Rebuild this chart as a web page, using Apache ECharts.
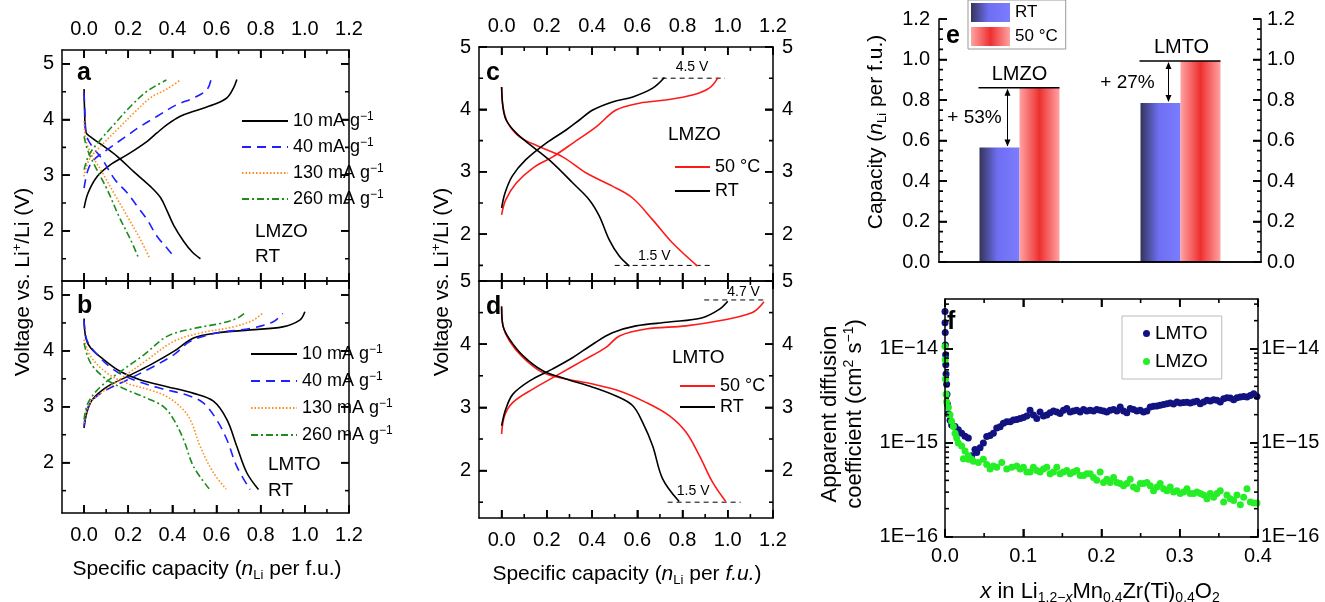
<!DOCTYPE html>
<html><head><meta charset="utf-8">
<script src="https://cdn.jsdelivr.net/npm/echarts@6/dist/echarts.min.js"></script>
<style>html,body{margin:0;padding:0;background:#fff}#c{width:1325px;height:602px}</style>
</head><body><div id="c"></div>
<script>
// ---------------- DATA ----------------
// panel a (LMZO, RT, rate tests) [capacity, voltage]
const a10Charge = [[0,2.41],[0.018,2.68],[0.06,2.98],[0.12,3.19],[0.196,3.37],[0.286,3.61],[0.33,3.76],[0.376,3.91],[0.436,4.06],[0.497,4.15],[0.587,4.27],[0.647,4.39],[0.677,4.57],[0.692,4.72]];
const a10Dis = [[0,4.55],[0.002,4.2],[0.008,3.78],[0.04,3.66],[0.09,3.52],[0.15,3.34],[0.226,3.06],[0.30,2.80],[0.346,2.6],[0.376,2.36],[0.406,2.1],[0.45,1.82],[0.49,1.62],[0.527,1.50]];
const a40Charge = [[0,2.77],[0.018,3.10],[0.045,3.28],[0.105,3.46],[0.18,3.67],[0.256,3.88],[0.331,4.06],[0.421,4.27],[0.497,4.39],[0.557,4.54],[0.575,4.72]];
const a40Dis = [[0,4.48],[0.004,4.1],[0.012,3.7],[0.04,3.5],[0.08,3.3],[0.14,2.92],[0.196,2.68],[0.241,2.44],[0.286,2.2],[0.331,1.90],[0.376,1.69],[0.414,1.50]];
const a130Charge = [[0,2.98],[0.023,3.28],[0.075,3.52],[0.15,3.82],[0.226,4.12],[0.30,4.39],[0.376,4.55],[0.432,4.70]];
const a130Dis = [[0,3.97],[0.008,3.64],[0.03,3.40],[0.075,3.10],[0.135,2.68],[0.196,2.26],[0.256,1.84],[0.298,1.50]];
const a260Charge = [[0,3.10],[0.023,3.37],[0.075,3.64],[0.135,3.91],[0.211,4.24],[0.286,4.51],[0.373,4.71]];
const a260Dis = [[0,3.70],[0.015,3.46],[0.05,3.16],[0.105,2.74],[0.158,2.26],[0.211,1.84],[0.248,1.50]];
// panel b (LMTO, RT, rate tests)
const b10Charge = [[0,2.62],[0.012,2.89],[0.038,3.13],[0.105,3.36],[0.195,3.54],[0.30,3.75],[0.406,3.99],[0.496,4.23],[0.60,4.32],[0.752,4.375],[0.90,4.43],[0.977,4.55],[1.0,4.70]];
const b10Dis = [[0,4.58],[0.008,4.23],[0.03,4.05],[0.09,3.84],[0.165,3.63],[0.256,3.48],[0.376,3.36],[0.496,3.24],[0.586,3.10],[0.647,2.77],[0.692,2.29],[0.737,1.82],[0.79,1.52]];
const b40Charge = [[0,2.65],[0.018,3.0],[0.075,3.24],[0.195,3.48],[0.30,3.69],[0.406,3.93],[0.481,4.17],[0.60,4.32],[0.752,4.40],[0.857,4.52],[0.90,4.67]];
const b40Dis = [[0,4.55],[0.012,4.20],[0.06,3.93],[0.135,3.66],[0.226,3.48],[0.346,3.33],[0.466,3.21],[0.54,3.07],[0.60,2.77],[0.647,2.41],[0.692,1.93],[0.752,1.52]];
const b130Charge = [[0,2.71],[0.023,3.04],[0.075,3.24],[0.18,3.54],[0.286,3.84],[0.406,4.17],[0.526,4.32],[0.677,4.43],[0.767,4.55],[0.812,4.69]];
const b130Dis = [[0,4.20],[0.03,3.90],[0.105,3.60],[0.195,3.42],[0.30,3.30],[0.376,3.18],[0.436,3.0],[0.481,2.77],[0.526,2.29],[0.586,1.82],[0.643,1.53]];
const b260Charge = [[0,2.77],[0.018,3.07],[0.075,3.36],[0.165,3.63],[0.271,3.93],[0.376,4.26],[0.496,4.40],[0.617,4.49],[0.692,4.58],[0.726,4.67]];
const b260Dis = [[0,4.14],[0.03,3.78],[0.105,3.48],[0.195,3.30],[0.286,3.15],[0.361,3.0],[0.406,2.77],[0.451,2.41],[0.496,1.93],[0.571,1.51]];
// panel c (LMZO, RT vs 50 C)
const cRTCharge = [[0,2.42],[0.015,2.66],[0.047,2.93],[0.106,3.19],[0.197,3.46],[0.285,3.67],[0.344,3.83],[0.403,3.99],[0.49,4.12],[0.58,4.20],[0.668,4.34],[0.72,4.51]];
const cRTDis = [[0,4.36],[0.006,4.04],[0.02,3.83],[0.065,3.62],[0.138,3.40],[0.226,3.14],[0.315,2.82],[0.388,2.55],[0.432,2.29],[0.476,1.91],[0.52,1.65],[0.565,1.49]];
const c50Charge = [[0,2.31],[0.018,2.55],[0.065,2.82],[0.138,3.06],[0.226,3.24],[0.315,3.46],[0.418,3.72],[0.506,3.99],[0.609,4.10],[0.726,4.15],[0.844,4.23],[0.918,4.34],[0.957,4.51]];
const c50Dis = [[0,4.36],[0.006,4.04],[0.028,3.78],[0.08,3.56],[0.168,3.40],[0.27,3.24],[0.374,2.98],[0.49,2.77],[0.579,2.58],[0.668,2.23],[0.756,1.86],[0.866,1.49]];
const cCutHigh = [[0.668,4.5],[0.988,4.5]];
const cCutLow = [[0.5,1.5],[0.925,1.5]];
// panel d (LMTO, RT vs 50 C)
const dRTCharge = [[0,2.71],[0.018,2.97],[0.05,3.21],[0.124,3.42],[0.226,3.61],[0.315,3.79],[0.403,4.0],[0.49,4.18],[0.594,4.29],[0.741,4.35],[0.888,4.42],[0.962,4.55],[1.0,4.68]];
const dRTDis = [[0,4.6],[0.006,4.29],[0.035,4.08],[0.094,3.82],[0.182,3.58],[0.285,3.45],[0.403,3.32],[0.506,3.18],[0.579,3.03],[0.624,2.76],[0.668,2.39],[0.712,1.87],[0.785,1.51]];
const d50Charge = [[0,2.58],[0.013,2.87],[0.05,3.08],[0.138,3.29],[0.256,3.53],[0.359,3.74],[0.462,3.95],[0.521,4.13],[0.638,4.24],[0.815,4.29],[0.962,4.37],[1.109,4.50],[1.16,4.67]];
const d50Dis = [[0,4.58],[0.006,4.29],[0.035,4.05],[0.094,3.79],[0.182,3.55],[0.285,3.45],[0.403,3.37],[0.521,3.26],[0.638,3.08],[0.741,2.87],[0.815,2.61],[0.874,2.24],[0.932,1.82],[0.991,1.51]];
const dCutHigh = [[0.896,4.7],[1.168,4.7]];
const dCutLow = [[0.734,1.5],[1.057,1.5]];
// panel e (capacity bars)
const eCats = ['LMZO','LMTO'];
const eRT = [0.565, 0.785];
const e50 = [0.86, 0.993];
const eGain = ['+ 53%', '+ 27%'];
// panel f (apparent diffusion coefficient, cm2/s)
const fLMTO = [[0,2.5e-14],[0,1.9e-14],[0.0003,1.5e-14],[0.0005,1.1e-14],[0.0008,8.7e-15],[0.001,6.8e-15],[0.0013,5.4e-15],[0.0021,4.2e-15],[0.0025,3.3e-15],[0.003,2.6e-15],[0.0043,2.05e-15],[0.0064,1.74e-15],[0.0085,1.55e-15],[0.0128,1.5e-15],[0.017,1.38e-15],[0.0213,1.27e-15],[0.0256,1.18e-15],[0.0298,1.13e-15],[0.0341,7.3e-16],[0.0383,8.5e-16],[0.0405,7.9e-16],[0.0448,8.9e-16],[0.049,1.0e-15],[0.0533,1.17e-15],[0.0576,1.2e-15],[0.0618,1.27e-15],[0.0661,1.44e-15],[0.0704,1.49e-15],[0.0746,1.62e-15],[0.0789,1.68e-15],[0.0832,1.68e-15],[0.0874,1.75e-15],[0.0917,1.78e-15],[0.096,1.82e-15],[0.1002,1.87e-15],[0.1045,1.93e-15],[0.1087,2.23e-15],[0.113,1.98e-15],[0.1173,1.82e-15],[0.1215,2.14e-15],[0.1258,1.93e-15],[0.1301,1.98e-15],[0.1343,2.09e-15],[0.1386,2.19e-15],[0.1429,2.14e-15],[0.1471,2.06e-15],[0.1514,2.23e-15],[0.1557,2.32e-15],[0.1599,2.14e-15],[0.1642,2.19e-15],[0.1684,2.23e-15],[0.1727,2.14e-15],[0.177,2.27e-15],[0.1812,2.19e-15],[0.1855,2.23e-15],[0.1898,2.19e-15],[0.194,2.27e-15],[0.1983,2.23e-15],[0.2026,2.19e-15],[0.2068,2.14e-15],[0.2111,2.23e-15],[0.2154,2.27e-15],[0.2196,2.19e-15],[0.2239,2.42e-15],[0.2281,2.19e-15],[0.2324,2.09e-15],[0.2367,2.32e-15],[0.2409,2.27e-15],[0.2452,2.19e-15],[0.2495,2.23e-15],[0.2537,2.14e-15],[0.258,2.19e-15],[0.2623,2.42e-15],[0.2665,2.46e-15],[0.2708,2.48e-15],[0.275,2.52e-15],[0.2793,2.56e-15],[0.2836,2.62e-15],[0.2878,2.66e-15],[0.2921,2.59e-15],[0.2964,2.73e-15],[0.3006,2.66e-15],[0.3049,2.69e-15],[0.3092,2.71e-15],[0.3134,2.66e-15],[0.3177,2.73e-15],[0.322,2.77e-15],[0.3262,2.62e-15],[0.3305,2.73e-15],[0.3348,2.84e-15],[0.339,2.8e-15],[0.3433,2.88e-15],[0.3475,2.84e-15],[0.3518,2.73e-15],[0.3561,2.95e-15],[0.3603,3.03e-15],[0.3646,3.0e-15],[0.3689,2.88e-15],[0.3731,3.03e-15],[0.3774,3.08e-15],[0.3817,3.13e-15],[0.3859,3.08e-15],[0.3902,3.2e-15],[0.3945,3.33e-15],[0.3987,3.13e-15]];
const fLMZO = [[0,1.06e-14],[0.0003,7.7e-15],[0.0006,4.8e-15],[0.0013,3.3e-15],[0.0021,2.75e-15],[0.0043,2.4e-15],[0.0064,2.0e-15],[0.0085,1.7e-15],[0.0107,1.5e-15],[0.0128,1.27e-15],[0.0149,1.13e-15],[0.017,1.0e-15],[0.0213,9.3e-16],[0.0256,8.2e-16],[0.0298,7.3e-16],[0.034,6.7e-16],[0.0235,6.8e-16],[0.0299,6.7e-16],[0.0362,6.4e-16],[0.0426,6.2e-16],[0.049,6.7e-16],[0.0533,5.9e-16],[0.0576,5.3e-16],[0.0618,5.7e-16],[0.0661,5.5e-16],[0.0725,6.2e-16],[0.0789,5.3e-16],[0.0853,5.5e-16],[0.0917,5.7e-16],[0.096,5.3e-16],[0.1002,5.5e-16],[0.1045,4.9e-16],[0.1087,4.9e-16],[0.113,5.5e-16],[0.1173,5.1e-16],[0.1215,4.9e-16],[0.1258,5.3e-16],[0.1301,5.5e-16],[0.1343,4.7e-16],[0.1386,4.9e-16],[0.1429,5.5e-16],[0.1471,4.7e-16],[0.1514,4.9e-16],[0.1557,5.1e-16],[0.1599,4.7e-16],[0.1642,4.9e-16],[0.1684,5.1e-16],[0.1727,4.5e-16],[0.177,4.5e-16],[0.1812,4.7e-16],[0.1855,4.7e-16],[0.1898,4.3e-16],[0.194,4.0e-16],[0.1983,4.9e-16],[0.2026,3.8e-16],[0.2068,4.1e-16],[0.2111,3.8e-16],[0.2154,4.3e-16],[0.2196,3.8e-16],[0.2239,3.7e-16],[0.2281,3.5e-16],[0.2324,3.7e-16],[0.2367,4.1e-16],[0.2409,3.4e-16],[0.2452,3.25e-16],[0.2495,3.7e-16],[0.2537,3.7e-16],[0.258,3.8e-16],[0.2623,3.5e-16],[0.2665,3.1e-16],[0.2708,3.4e-16],[0.275,3.7e-16],[0.2793,3.25e-16],[0.2836,3.1e-16],[0.2878,3.4e-16],[0.2921,3.0e-16],[0.2964,3.1e-16],[0.3006,2.9e-16],[0.3049,3.0e-16],[0.3092,3.25e-16],[0.3134,2.9e-16],[0.3177,2.9e-16],[0.322,3.0e-16],[0.3262,2.9e-16],[0.3305,2.8e-16],[0.3348,2.55e-16],[0.339,2.9e-16],[0.3433,2.65e-16],[0.3475,2.9e-16],[0.3518,3.1e-16],[0.3561,2.35e-16],[0.3603,2.8e-16],[0.3646,2.55e-16],[0.3689,2.45e-16],[0.3731,2.8e-16],[0.3774,2.2e-16],[0.3817,2.65e-16],[0.3859,3.25e-16],[0.3902,2.35e-16],[0.3945,2.3e-16],[0.3987,2.3e-16]];
// tick values
const capTicks = [0,0.2,0.4,0.6,0.8,1.0,1.2];
const capMinor = [0.1,0.3,0.5,0.7,0.9,1.1];
const vTicks = [2,3,4,5];
const vMinor = [1.5,2.5,3.5,4.5];
const eTicks = [0,0.2,0.4,0.6,0.8,1.0,1.2];
const eMinor = [0.05,0.1,0.15,0.25,0.3,0.35,0.45,0.5,0.55,0.65,0.7,0.75,0.85,0.9,0.95,1.05,1.1,1.15];
const fXTicks = [0,0.1,0.2,0.3,0.4];
const fXMinor = [0.05,0.15,0.25,0.35];
const fDecades = [1e-16,1e-15,1e-14];
const fMinor = [2e-16,3e-16,4e-16,5e-16,6e-16,7e-16,8e-16,9e-16,2e-15,3e-15,4e-15,5e-15,6e-15,7e-15,8e-15,9e-15,2e-14,3e-14];

// ---------------- CHART ----------------
const chart = echarts.init(document.getElementById('c'));
const FONT = '"Liberation Sans", Arial, Helvetica, sans-serif';
const TS = 20; // tick label size
const MAJ = 8, MIN = 4, TW = 1.6; // tick lengths / width (px)
const boxes = [], grids = [], xAxes = [], yAxes = [], series = [];
function grid(l,t,w,h){ boxes.push({w:w, h:h}); grids.push({left:l, top:t, width:w, height:h, show:false}); return grids.length-1; }
const fmt1 = v => Number(v).toFixed(1);
const fmt0 = v => String(Math.round(v));
const fmtE = v => '1E\u2212' + Math.round(-Math.log10(v));
function axis(list, g, pos, type, min, max, majors, showLabels, fmt, margin, extra){
  list.push(Object.assign({gridIndex:g, position:pos, type:type, min:min, max:max, splitLine:{show:false}, z:5,
    axisLine:{show:true, onZero:false, lineStyle:{color:'#000', width:1.5}},
    axisTick:{show:true, inside:true, length:MAJ, customValues:majors, lineStyle:{color:'#000', width:TW}},
    axisLabel:{show:showLabels, customValues:majors, formatter:fmt, color:'#000', fontSize:TS, fontFamily:FONT, margin:margin||8}
  }, extra||{}));
  return list.length-1;
}
function lineS(name, data, xi, yi, color, type){
  series.push({type:'line', name:name, data:data, xAxisIndex:xi, yAxisIndex:yi, symbol:'none', smooth:0.35,
    lineStyle:{color:color, width:1.6, type:type||'solid'}, itemStyle:{color:color}, z:3});
}
// tick marks as short line series, placed on the axes through their own scales
function tickSeg(xi, yi, p1, p2){
  series.push({type:'line', data:[p1, p2], xAxisIndex:xi, yAxisIndex:yi, symbol:'none', showSymbol:false, silent:true, clip:false,
    lineStyle:{color:'#000', width:TW, type:'solid'}, z:7, animation:false, emphasis:{disabled:true}});
}
function panelTicks(g, xi, yi, xmin, xmax, ymin, ymax, logY, xMaj, xMin, yMaj, yMin){
  const W = boxes[g].w, H = boxes[g].h;
  const span = logY ? Math.log10(ymax) - Math.log10(ymin) : (ymax - ymin);
  const up = (y, len) => logY ? y * Math.pow(10, len*span/H) : y + len*span/H;
  const down = (y, len) => logY ? y / Math.pow(10, len*span/H) : y - len*span/H;
  const dx = len => len*(xmax - xmin)/W;
  const xt = (vals, len) => (vals||[]).forEach(v => { tickSeg(xi, yi, [v, ymin], [v, up(ymin, len)]); tickSeg(xi, yi, [v, ymax], [v, down(ymax, len)]); });
  const yt = (vals, len) => (vals||[]).forEach(v => { tickSeg(xi, yi, [xmin, v], [xmin + dx(len), v]); tickSeg(xi, yi, [xmax, v], [xmax - dx(len), v]); });
  xt(xMaj, MAJ); xt(xMin, MIN); yt(yMaj, MAJ); yt(yMin, MIN);
}

// grids
const gA = grid(62,50,287,231), gB = grid(62,281,287,232), gC = grid(479,47,294,234),
      gD = grid(479,281,294,237), gE = grid(939,19,322,243), gF = grid(945,299,313,238);

// panel a/b/c/d axes
const capPanels = [];
function capPanel(g, topLabels, botLabels, vmin, vmax, rightLabels){
  const xb = axis(xAxes, g, 'bottom', 'value', -0.1, 1.2, capTicks, botLabels, fmt1, 12);
  axis(xAxes, g, 'top', 'value', -0.1, 1.2, capTicks, topLabels, fmt1, 11);
  const yl = axis(yAxes, g, 'left', 'value', vmin, vmax, vTicks, true, fmt0, 8);
  axis(yAxes, g, 'right', 'value', vmin, vmax, vTicks, rightLabels, fmt0, 9);
  panelTicks(g, xb, yl, -0.1, 1.2, vmin, vmax, false, capTicks, capMinor, vTicks, vMinor);
  capPanels.push([g, xb, yl]);
  return [xb, yl];
}
const [xA, yA] = capPanel(gA, true, false, 1.1, 5.25, false);
const [xB, yB] = capPanel(gB, false, true, 1.1, 5.25, false);
const [xC, yC] = capPanel(gC, true, false, 1.25, 5, true);
const [xD, yD] = capPanel(gD, false, true, 1.25, 5, true);

const BLK = '#000', BLU = '#1f1fff', ORG = '#ff8c1a', GRN = '#1d8c1d', RED = '#ff1a1a';
const DASH = [9,6], DOT = [1.5,2], DDOT = [7,3,2,3];
lineS('a10', a10Charge, xA, yA, BLK); lineS('a10', a10Dis, xA, yA, BLK);
lineS('a40', a40Charge, xA, yA, BLU, DASH); lineS('a40', a40Dis, xA, yA, BLU, DASH);
lineS('a130', a130Charge, xA, yA, ORG, DOT); lineS('a130', a130Dis, xA, yA, ORG, DOT);
lineS('a260', a260Charge, xA, yA, GRN, DDOT); lineS('a260', a260Dis, xA, yA, GRN, DDOT);
lineS('b10', b10Charge, xB, yB, BLK); lineS('b10', b10Dis, xB, yB, BLK);
lineS('b40', b40Charge, xB, yB, BLU, DASH); lineS('b40', b40Dis, xB, yB, BLU, DASH);
lineS('b130', b130Charge, xB, yB, ORG, DOT); lineS('b130', b130Dis, xB, yB, ORG, DOT);
lineS('b260', b260Charge, xB, yB, GRN, DDOT); lineS('b260', b260Dis, xB, yB, GRN, DDOT);
lineS('c50', c50Charge, xC, yC, RED); lineS('c50', c50Dis, xC, yC, RED);
lineS('cRT', cRTCharge, xC, yC, BLK); lineS('cRT', cRTDis, xC, yC, BLK);
lineS('d50', d50Charge, xD, yD, RED); lineS('d50', d50Dis, xD, yD, RED);
lineS('dRT', dRTCharge, xD, yD, BLK); lineS('dRT', dRTDis, xD, yD, BLK);
[[cCutHigh,xC,yC],[cCutLow,xC,yC],[dCutHigh,xD,yD],[dCutLow,xD,yD]].forEach(([d,xi,yi])=>{
  series.push({type:'line', data:d, xAxisIndex:xi, yAxisIndex:yi, symbol:'none', silent:true, clip:false,
    lineStyle:{color:'#000', width:1, type:[5,4]}, z:2});
});

// panel e axes
xAxes.push({gridIndex:gE, type:'category', data:eCats, position:'bottom', axisLine:{show:true, lineStyle:{color:'#000', width:1.5}}, axisTick:{show:false}, axisLabel:{show:false}, splitLine:{show:false}, z:5});
const xE = xAxes.length-1;
xAxes.push({gridIndex:gE, type:'category', data:eCats, position:'top', axisLine:{show:true, lineStyle:{color:'#000', width:1.5}}, axisTick:{show:false}, axisLabel:{show:false}, splitLine:{show:false}, z:5});
xAxes.push({gridIndex:gE, type:'value', min:0, max:1, show:false});
const xEv = xAxes.length-1;
const yE = axis(yAxes, gE, 'left', 'value', 0, 1.2, eTicks, true, fmt1, 9);
axis(yAxes, gE, 'right', 'value', 0, 1.2, eTicks, true, fmt1, 6);
panelTicks(gE, xEv, yE, 0, 1, 0, 1.2, false, null, null, eTicks, eMinor);
const G = echarts.graphic.LinearGradient;
const blueGrad = new G(0,0,1,0,[{offset:0,color:'#34345a'},{offset:0.45,color:'#6e6ef2'},{offset:1,color:'#7c7cff'}]);
const redGrad = new G(0,0,1,0,[{offset:0,color:'#ffa3a3'},{offset:0.5,color:'#ee2f2f'},{offset:1,color:'#ffa3a3'}]);
series.push({type:'bar', name:'eRT', data:eRT, xAxisIndex:xE, yAxisIndex:yE, barWidth:40, barGap:'0%', itemStyle:{color:blueGrad}});
series.push({type:'bar', name:'e50', data:e50, xAxisIndex:xE, yAxisIndex:yE, barWidth:40, barGap:'0%', itemStyle:{color:redGrad}});

// panel f axes
const F_MIN = 0.999e-16, F_MAX = 3.4e-14;
const xF = axis(xAxes, gF, 'bottom', 'value', 0, 0.4, fXTicks, true, fmt1, 9);
axis(xAxes, gF, 'top', 'value', 0, 0.4, fXTicks, false, fmt1, 9);
const yF = axis(yAxes, gF, 'left', 'log', F_MIN, F_MAX, fDecades, true, fmtE, 7, {logBase:10});
axis(yAxes, gF, 'right', 'log', F_MIN, F_MAX, fDecades, true, fmtE, 3, {logBase:10});
panelTicks(gF, xF, yF, 0, 0.4, F_MIN, F_MAX, true, fXTicks, fXMinor, fDecades, fMinor);
series.push({type:'scatter', name:'fLMTO', data:fLMTO, xAxisIndex:xF, yAxisIndex:yF, symbolSize:7, itemStyle:{color:'#121280', opacity:1}, z:3});
series.push({type:'scatter', name:'fLMZO', data:fLMZO, xAxisIndex:xF, yAxisIndex:yF, symbolSize:7, itemStyle:{color:'#26ee26', opacity:1}, z:4});

// legends
const legendText = {a10:'10 mA g', a40:'40 mA g', a130:'130 mA g', a260:'260 mA g',
  b10:'10 mA g', b40:'40 mA g', b130:'130 mA g', b260:'260 mA g',
  c50:'50 °C', cRT:'RT', d50:'50 °C', dRT:'RT', eRT:'RT', e50:'50 °C', fLMTO:'LMTO', fLMZO:'LMZO'};
const richSup = {n:{fontSize:18, fontFamily:FONT, color:'#000', lineHeight:20}, s:{fontSize:12, fontFamily:FONT, color:'#000', lineHeight:12, verticalAlign:'top'}};
const rateFmt = name => '{n|' + legendText[name] + '}{s|\u22121}';
const plainFmt = name => legendText[name];
const noSym = {opacity:0};
const legends = [
  {data:['a10','a40','a130','a260'], left:236, top:106, orient:'vertical', itemWidth:46, itemHeight:14, itemGap:7, itemStyle:noSym, formatter:rateFmt, textStyle:{rich:richSup, fontSize:18, fontFamily:FONT, color:'#000'}},
  {data:['b10','b40','b130','b260'], left:245, top:339, orient:'vertical', itemWidth:46, itemHeight:14, itemGap:8, itemStyle:noSym, formatter:rateFmt, textStyle:{rich:richSup, fontSize:18, fontFamily:FONT, color:'#000'}},
  {data:['c50','cRT'], left:669, top:153, orient:'vertical', itemWidth:35, itemHeight:14, itemGap:6, itemStyle:noSym, formatter:plainFmt, textStyle:{fontSize:18, fontFamily:FONT, color:'#000'}},
  {data:['d50','dRT'], left:674, top:372, orient:'vertical', itemWidth:35, itemHeight:14, itemGap:3, itemStyle:noSym, formatter:plainFmt, textStyle:{fontSize:18, fontFamily:FONT, color:'#000'}},
  {data:['eRT','e50'], left:968, top:0, orient:'vertical', icon:'rect', itemWidth:39, itemHeight:19, itemGap:5, padding:[3,8,3,3], borderColor:'#999', borderWidth:1, backgroundColor:'#fff', formatter:plainFmt, textStyle:{fontSize:17, fontFamily:FONT, color:'#000'}, z:20},
  {data:['fLMTO','fLMZO'], left:1122, top:316, orient:'vertical', icon:'circle', itemWidth:7, itemHeight:7, itemGap:9, padding:[8,14,8,21], borderColor:'#bbb', borderWidth:1, backgroundColor:'#fff', formatter:plainFmt, textStyle:{fontSize:19, fontFamily:FONT, color:'#000'}, z:20}
];
legends.forEach(l => { l.selectedMode = false; });

chart.setOption({animation:false, backgroundColor:'#fff', grid:grids, xAxis:xAxes, yAxis:yAxes, series:series, legend:legends});

// ---------------- TEXT & ANNOTATIONS ----------------
const els = [];
function pix(xi, yi, xv, yv){ return chart.convertToPixel({xAxisIndex:xi, yAxisIndex:yi}, [xv, yv]); }
function txt(x, y, text, o){
  o = o || {};
  els.push({type:'text', x:x, y:y, rotation:o.rot||0, z:10, silent:true,
    style:{text:text, fill:'#000', font:(o.bold?'bold ':'') + (o.size||19) + 'px ' + FONT,
      align:o.align||'left', verticalAlign:'middle', rich:o.rich}});
}
function richSet(sz){ const sm = Math.round(sz*0.62); return {
  t:{fontSize:sz, fontFamily:FONT, fill:'#000', lineHeight:sz+4},
  i:{fontSize:sz, fontFamily:FONT, fontStyle:'italic', fill:'#000', lineHeight:sz+4},
  sub:{fontSize:sm, fontFamily:FONT, fill:'#000', lineHeight:sm, verticalAlign:'bottom'},
  isub:{fontSize:sm, fontFamily:FONT, fontStyle:'italic', fill:'#000', lineHeight:sm, verticalAlign:'bottom'},
  sup:{fontSize:sm, fontFamily:FONT, fill:'#000', lineHeight:sm, verticalAlign:'top'}}; }
const R = richSet(21), RF = richSet(22);
// panel letters
txt(77,73,'a',{bold:true,size:25}); txt(77,306,'b',{bold:true,size:25});
txt(486,73,'c',{bold:true,size:25}); txt(486,307,'d',{bold:true,size:25});
txt(946,36,'e',{bold:true,size:25}); txt(947,322,'f',{bold:true,size:25});
// inset texts
txt(255,232,'LMZO'); txt(255,257,'RT');
txt(268,465,'LMTO'); txt(268,491,'RT');
txt(668,135,'LMZO'); txt(672,358,'LMTO');
// axis names
const yName = '{t|Voltage vs. Li}{sup|+}{t|/Li (V)}';
txt(23,282,yName,{rot:Math.PI/2, align:'center', rich:R});
txt(442,282,yName,{rot:Math.PI/2, align:'center', rich:R});
txt(207,569,'{t|Specific capacity (}{i|n}{sub|Li}{t| per f.u.)}',{align:'center', rich:R});
txt(627,574,'{t|Specific capacity (}{i|n}{sub|Li}{t| per }{i|f.u.}{t|)}',{align:'center', rich:R});
txt(876,132,'{t|Capacity (}{i|n}{sub|Li}{t| per f.u.)}',{rot:Math.PI/2, align:'center', rich:R});
txt(830,414,'{t|Apparent diffusion}',{rot:Math.PI/2, align:'center', rich:RF});
txt(855,414,'{t|coefficient (cm}{sup|2}{t| s}{sup|\u22121}{t|)}',{rot:Math.PI/2, align:'center', rich:RF});
txt(1100,592,'{i|x}{t| in Li}{sub|1.2\u2212}{isub|x}{t|Mn}{sub|0.4}{t|Zr(Ti)}{sub|0.4}{t|O}{sub|2}',{align:'center', rich:RF});
// cutoff voltage labels (data positions)
function dataTxt(xi, yi, pt, text){ const p = pix(xi, yi, pt[0], pt[1]); txt(p[0], p[1], text, {size:14, align:'center'}); }
dataTxt(xC, yC, [0.842,4.68], '4.5 V'); dataTxt(xC, yC, [0.675,1.65], '1.5 V');
dataTxt(xD, yD, [1.07,4.83], '4.7 V'); dataTxt(xD, yD, [0.847,1.67], '1.5 V');
// panel e annotations
function arrowHead(x, y, dir){ els.push({type:'polygon', z:10, silent:true, shape:{points:[[x,y],[x-3,y-7*dir],[x+3,y-7*dir]]}, style:{fill:'#000'}}); }
eCats.forEach((cat, i) => {
  const top = pix(xE, yE, cat, e50[i]);
  const low = pix(xE, yE, cat, eRT[i]);
  const cx = top[0];
  els.push({type:'line', z:10, silent:true, shape:{x1:cx-41, y1:top[1], x2:cx+40, y2:top[1]}, style:{stroke:'#000', lineWidth:1.5}});
  const ax = cx - 12;
  els.push({type:'line', z:10, silent:true, shape:{x1:ax, y1:top[1]+2, x2:ax, y2:low[1]-2}, style:{stroke:'#000', lineWidth:1}});
  arrowHead(ax, top[1]+1, -1); arrowHead(ax, low[1]-1, 1);
  txt(cx + (i===0 ? 0 : 1), top[1]-13, cat, {align:'center', size:20});
  const mid = pix(xE, yE, cat, i===0 ? 0.71 : 0.885);
  txt(cx + (i===0 ? -45 : -53), mid[1], eGain[i], {align:'center', size:19});
});
chart.setOption({graphic:{elements:els}});
</script></body></html>
